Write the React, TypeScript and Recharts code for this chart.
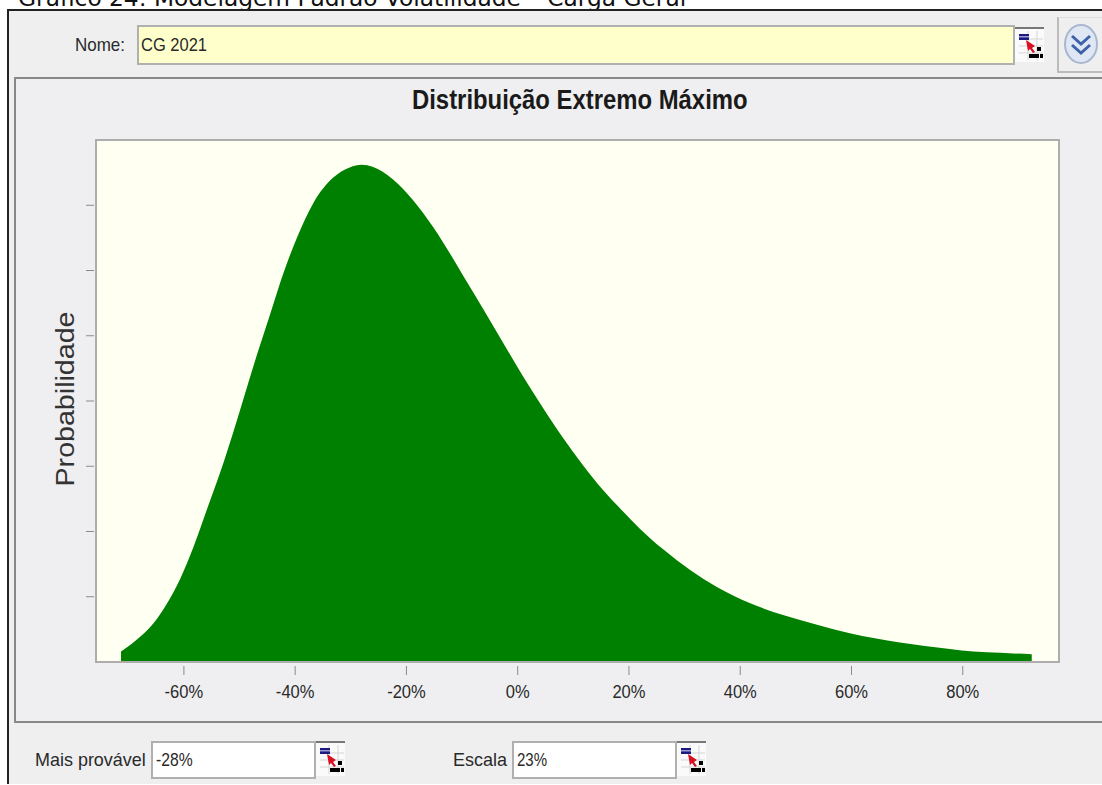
import { AreaChart, Area, XAxis, YAxis } from 'recharts';

const pct = [-71.3, -68.5, -65.5, -63.1, -60.7, -58.3, -55.9, -53.5, -51.1, -49.3, -46.9, -44.5, -42.1, -39.7, -36.7, -33.2, -30.2, -28.0, -24.2, -20.6, -17.0, -13.4, -9.8, -6.2, -2.6, 1.0, 4.5, 8.1, 11.7, 15.3, 18.9, 22.0, 26.1, 31.0, 35.8, 41.8, 47.7, 53.8, 59.7, 68.7, 77.7, 81.9, 86.7, 92.4];
const prob = [0.16, 0.34, 0.59, 0.89, 1.27, 1.76, 2.33, 2.9, 3.53, 4.03, 4.7, 5.33, 5.96, 6.5, 7.04, 7.42, 7.58, 7.62, 7.51, 7.25, 6.88, 6.43, 5.92, 5.41, 4.89, 4.37, 3.9, 3.44, 3.02, 2.64, 2.31, 2.04, 1.73, 1.41, 1.15, 0.9, 0.72, 0.57, 0.44, 0.3, 0.2, 0.16, 0.14, 0.12];
const xTicks = [-60, -40, -20, 0, 20, 40, 60, 80];
const yTicks = [1, 2, 3, 4, 5, 6, 7];

const chartData = pct.map((p, i) => ({ pct: p, prob: prob[i] }));

const uiFont = '"Liberation Sans", Arial, sans-serif';

function XTick({ x, y, payload }: any) {
  return (
    <g>
      <line x1={x} x2={x} y1={y + 2} y2={y + 11} stroke="#8a8a8a" strokeWidth={1} />
      <text transform={`translate(${x},${y + 34}) scale(0.87,1)`} textAnchor="middle" fontSize={19} fontFamily={uiFont} fill="#2a2a2a">
        {payload.value}%
      </text>
    </g>
  );
}

function YTick({ x, y }: any) {
  return <line x1={x - 8} x2={x} y1={y} y2={y} stroke="#8a8a8a" strokeWidth={1} />;
}

function YLabel({ viewBox }: any) {
  const cy = viewBox.y + viewBox.height / 2 - 2;
  return (
    <text transform={`translate(74,${cy}) rotate(-90) scale(1.145,1)`} textAnchor="middle" fontSize={25} fontFamily={uiFont} fill="#333">
      Probabilidade
    </text>
  );
}

function Label({ left, top, sx = 1, children }: any) {
  return (
    <div style={{ position: 'absolute', left, top, fontFamily: uiFont, fontSize: 19, lineHeight: '20px', color: '#2a2a2a', whiteSpace: 'nowrap', transform: `scaleX(${sx})`, transformOrigin: 'left center' }}>
      {children}
    </div>
  );
}

function Field({ left, top, width, height, bg = '#fff' }: any) {
  return (
    <div style={{ position: 'absolute', left, top, width, height, boxSizing: 'border-box', background: bg, border: '2px solid #b0b0b0' }} />
  );
}

// the little "link cell" button next to each field
function CellIcon({ left, top }: any) {
  return (
    <svg style={{ position: 'absolute', left, top }} width={30} height={36} viewBox="0 0 30 36">
      <rect x={0} y={1} width={29} height={34} fill="#fafafa" />
      <rect x={0} y={0} width={29} height={2} fill="#777" />
      <path d="M4 12H28M4 19H28M4 26H28M13 4V33M22 4V33" stroke="#d5d5d5" fill="none" />
      <rect x={4} y={7} width={10} height={6} fill="#1a1a80" />
      <rect x={4} y={9} width={10} height={1.5} fill="#9a9ad0" />
      <path d="M11 13L20 19L17 21L20 25L18 26L15 22L13 24Z" fill="#d81020" />
      <rect x={14} y={27} width={10} height={4} fill="#000" />
      <rect x={22} y={20} width={4} height={4} fill="#000" />
      <rect x={25} y={27} width={3} height={4} fill="#000" />
    </svg>
  );
}

export default function App() {
  return (
    <div style={{ position: 'absolute', left: 0, top: 0, width: 1102, height: 785, overflow: 'hidden', background: '#fff' }}>
      <div style={{ position: 'absolute', left: 18, top: -16, fontFamily: '"DejaVu Sans", sans-serif', fontSize: 23.3, lineHeight: '28px', color: '#111', whiteSpace: 'nowrap' }}>
        Gráfico 24: Modelagem Padrão Volatilidade – Carga Geral
      </div>

      {/* window frame */}
      <div style={{ position: 'absolute', left: 7, top: 9, width: 1100, height: 775, boxSizing: 'border-box', background: '#efeff0', borderLeft: '2px solid #222', borderTop: '2px solid #222' }} />

      <Label left={75} top={35} sx={0.894}>Nome:</Label>
      <Field left={137} top={25} width={878} height={40} bg="#ffffcc" />
      <Label left={141} top={35} sx={0.868}>CG 2021</Label>
      <CellIcon left={1015} top={27} />

      <div style={{ position: 'absolute', left: 1057, top: 17, width: 60, height: 56, boxSizing: 'border-box', borderLeft: '2px solid #bbb', borderBottom: '2px solid #bbb', borderTop: '1px solid #ddd' }} />
      <svg style={{ position: 'absolute', left: 1063, top: 23 }} width={36} height={42} viewBox="0 0 36 42">
        <ellipse cx={18} cy={21} rx={16} ry={19} fill="#dfe7f5" stroke="#a9b7cf" strokeWidth={2} />
        <path d="M9 13L18 21L27 13M9 22L18 30L27 22" fill="none" stroke="#3d62a8" strokeWidth={3} />
      </svg>

      {/* chart panel */}
      <div style={{ position: 'absolute', left: 14, top: 77, width: 1100, height: 646, boxSizing: 'border-box', border: '2px solid #888', background: '#efeff1' }} />
      <div style={{ position: 'absolute', left: 95, top: 139, width: 965, height: 524, boxSizing: 'border-box', border: '2px solid #adadad', background: '#fffff2' }} />

      <div style={{ position: 'absolute', left: 412, top: 86, fontFamily: uiFont, fontWeight: 700, fontSize: 27, lineHeight: '28px', color: '#1a1a1a', whiteSpace: 'nowrap', transform: 'scaleX(0.884)', transformOrigin: 'left center' }}>
        Distribuição Extremo Máximo
      </div>

      <div style={{ position: 'absolute', left: 0, top: 0 }}>
        <AreaChart width={1102} height={785} data={chartData} margin={{ top: 140, right: 43, bottom: 0, left: 0 }}>
          <XAxis
            dataKey="pct"
            type="number"
            domain={[-75.8, 97.3]}
            ticks={xTicks}
            height={123}
            allowDataOverflow
            interval={0}
            tickLine={false}
            tickSize={0}
            tick={XTick}
            axisLine={{ stroke: '#adadad', strokeWidth: 2 }}
          />
          <YAxis
            type="number"
            domain={[0, 8]}
            ticks={yTicks}
            width={96}
            interval={0}
            tickLine={false}
            tickSize={0}
            tick={YTick}
            axisLine={false}
            label={YLabel}
          />
          <Area
            type="monotone"
            dataKey="prob"
            stroke="none"
            fill="#008000"
            fillOpacity={1}
            dot={false}
            activeDot={false}
            isAnimationActive={false}
          />
        </AreaChart>
      </div>

      <Label left={35} top={750} sx={0.945}>Mais provável</Label>
      <Field left={151} top={741} width={165} height={38} />
      <Label left={156} top={750} sx={0.827}>-28%</Label>
      <CellIcon left={316} top={741} />

      <Label left={453} top={750} sx={0.947}>Escala</Label>
      <Field left={512} top={741} width={165} height={38} />
      <Label left={517} top={750} sx={0.792}>23%</Label>
      <CellIcon left={677} top={741} />
    </div>
  );
}
